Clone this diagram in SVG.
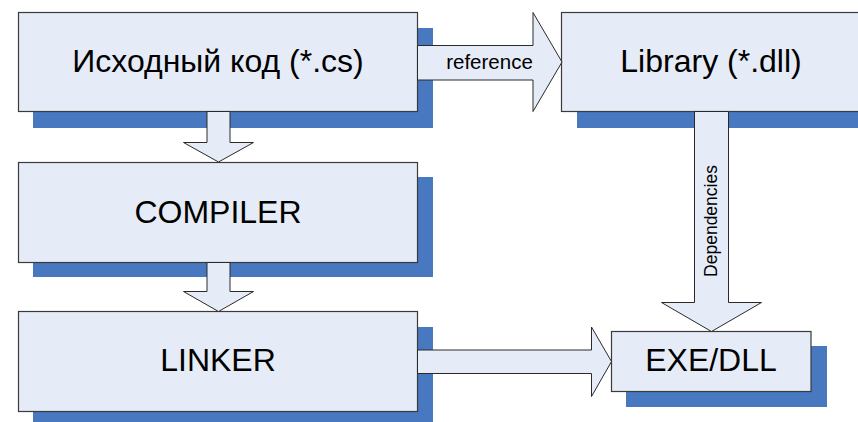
<svg xmlns="http://www.w3.org/2000/svg" width="858" height="422" viewBox="0 0 858 422">
  <style>
    .shadow { fill: #4878C0; }
    .box { fill: #E6ECF7; stroke: #3A3A3A; stroke-width: 1.2; }
    .arrow { fill: #E6ECF7; stroke: #2A2A2A; stroke-width: 1; stroke-linejoin: miter; }
    .label { font-family: "Liberation Sans", Arial, sans-serif; font-size: 32px; fill: #000; text-anchor: middle; }
    .tag { font-family: "Liberation Sans", Arial, sans-serif; font-size: 20.5px; fill: #000; text-anchor: middle; }
    .tag-v { font-family: "Liberation Sans", Arial, sans-serif; font-size: 17.5px; fill: #000; text-anchor: middle; }
  </style>
  <rect width="858" height="422" fill="#FFFFFF"/>

  <g id="source">
    <rect class="shadow" x="33" y="28" width="400" height="100"/>
    <rect class="box" x="18.5" y="12.5" width="399" height="99"/>
    <text class="label" x="218" y="72">Исходный код (*.cs)</text>
  </g>

  <g id="library">
    <rect class="shadow" x="577" y="28" width="300" height="100"/>
    <rect class="box" x="561.5" y="12.5" width="300" height="99"/>
    <text class="label" x="711" y="72">Library (*.dll)</text>
  </g>

  <g id="compiler">
    <rect class="shadow" x="33" y="177" width="400" height="100"/>
    <rect class="box" x="18.5" y="162.5" width="399" height="100"/>
    <text class="label" x="218" y="222.5">COMPILER</text>
  </g>

  <g id="linker">
    <rect class="shadow" x="33" y="327" width="400" height="100"/>
    <rect class="box" x="18.5" y="311.5" width="399" height="100"/>
    <text class="label" x="218" y="371">LINKER</text>
  </g>

  <g id="output">
    <rect class="shadow" x="626" y="346" width="201" height="61"/>
    <rect class="box" x="611.5" y="331.5" width="199.5" height="60"/>
    <text class="label" x="711" y="371">EXE/DLL</text>
  </g>

  <g id="connectors">
    <!-- source -> library -->
    <polygon class="arrow" points="417.5,45.5 533,45.5 533,12.5 562,62 533,111.5 533,80 417.5,80"/>
    <text class="tag" x="489.5" y="69">reference</text>
    <!-- source -> compiler -->
    <polygon class="arrow" points="207,111.5 207,142.5 183.5,142.5 218.5,162 253.5,142.5 230,142.5 230,111.5"/>
    <!-- compiler -> linker -->
    <polygon class="arrow" points="207,262.5 207,291.5 183.5,291.5 218.5,311.5 253.5,291.5 230,291.5 230,262.5"/>
    <!-- linker -> output -->
    <polygon class="arrow" points="417.5,350 591.5,350 591.5,327 611.5,361.5 591.5,396.5 591.5,373.5 417.5,373.5"/>
    <!-- library -> output -->
    <polygon class="arrow" points="694.5,111.5 694.5,302.5 661.5,302.5 711.5,331.5 761.5,302.5 728.5,302.5 728.5,111.5"/>
    <text class="tag-v" transform="translate(717,221) rotate(-90)" x="0" y="0">Dependencies</text>
  </g>
</svg>
